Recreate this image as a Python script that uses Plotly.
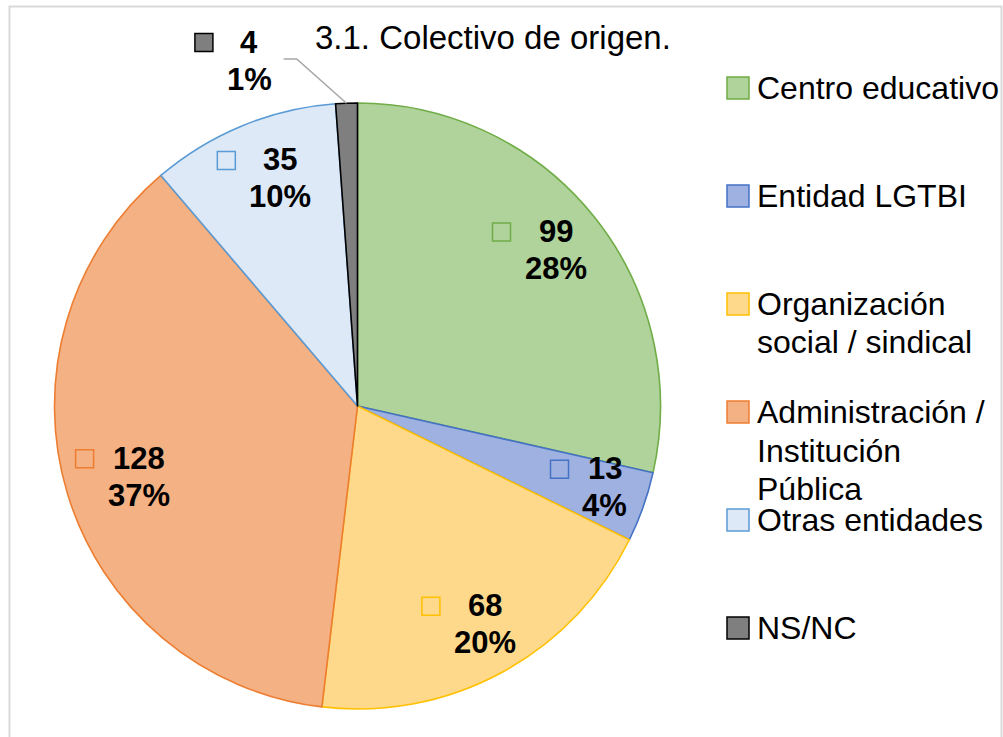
import math
import plotly.graph_objects as go

# ---------------- data ----------------
categories = ["Centro educativo", "Entidad LGTBI", "Organización social / sindical",
              "Administración / Institución Pública", "Otras entidades", "NS/NC"]
legend_lines = [["Centro educativo"], ["Entidad LGTBI"], ["Organización", "social / sindical"],
                ["Administración /", "Institución", "Pública"], ["Otras entidades"], ["NS/NC"]]
values = [99, 13, 68, 128, 35, 4]
pct_labels = ["28%", "4%", "20%", "37%", "10%", "1%"]
fill_colors = ["#afd39a", "#9fb1e0", "#ffd98b", "#f4b183", "#dde9f6", "#7f7f7f"]
line_colors = ["#70ad47", "#4472c4", "#ffc000", "#ed7d31", "#5b9bd5", "#000000"]
title_text = "3.1. Colectivo de origen."

# ---------------- layout helpers (pixels -> paper) ----------------
W, H = 1003, 737
def px(x):
    return x / W
def py(y):
    return 1 - y / H

CX, CY, R = 357.5, 406.0, 303.0
FONT = "Liberation Sans, Arial, sans-serif"
LABEL_FS = 31
LEGEND_FS = 32

fig = go.Figure(go.Pie(
    labels=categories, values=values, sort=False, direction="clockwise", rotation=0,
    marker=dict(colors=fill_colors, line=dict(color=line_colors, width=1.6)),
    textinfo="none", hoverinfo="label+value+percent", showlegend=False,
    domain=dict(x=[px(CX - R), px(CX + R)], y=[py(CY + R), py(CY - R)]),
))

annotations = []
shapes = []

# frame
shapes.append(dict(type="rect", xref="paper", yref="paper",
                   x0=px(9.5), x1=px(1001.5), y0=py(760), y1=py(6.5),
                   line=dict(color="#d9d9d9", width=2), fillcolor="rgba(0,0,0,0)", layer="below"))

# title
annotations.append(dict(x=px(493), y=py(38), xref="paper", yref="paper", text=title_text,
                        showarrow=False, xanchor="center", yanchor="middle",
                        font=dict(family=FONT, size=33, color="#000000")))

# data labels
def text_w(s):
    w = 0.0
    for ch in s:
        w += 0.889 if ch == "%" else 0.556
    return w * LABEL_FS

# label placement (radius factor, angle) overrides, as Excel "best fit" places them
label_override = {0: (0.79, 49.5), 2: (0.81, 153.0), 5: (1.21, 340.2)}
leader = {5}
total = sum(values)
cum = 0
for i, v in enumerate(values):
    mid = (cum + v / 2) / total * 360.0
    cum += v
    rf, ang = label_override.get(i, (0.81, mid))
    bx = CX + rf * R * math.sin(math.radians(ang))
    by = CY - rf * R * math.cos(math.radians(ang))
    hw = max(text_w(str(v)), text_w(pct_labels[i])) / 2
    tcx = bx + 16
    l1 = by - 18.5
    l2 = by + 18.5
    for txt, yy in ((str(v), l1), (pct_labels[i], l2)):
        annotations.append(dict(x=px(tcx), y=py(yy - 0.5), xref="paper", yref="paper",
                                text="<b>%s</b>" % txt, showarrow=False,
                                xanchor="center", yanchor="middle",
                                font=dict(family=FONT, size=LABEL_FS, color="#000000")))
    sq_r = tcx - hw - 14
    shapes.append(dict(type="rect", xref="paper", yref="paper",
                       x0=px(sq_r - 18), x1=px(sq_r), y0=py(l1 + 9), y1=py(l1 - 9),
                       fillcolor=fill_colors[i], line=dict(color=line_colors[i], width=1.5)))
    if i in leader:
        sx = tcx + hw + 12
        sy = by - 2
        ex = CX + R * math.sin(math.radians(mid))
        ey = CY - R * math.cos(math.radians(mid))
        path = "M %f %f L %f %f L %f %f" % (px(sx), py(sy), px(sx + 13), py(sy), px(ex), py(ey))
        shapes.append(dict(type="path", xref="paper", yref="paper", path=path,
                           line=dict(color="#a6a6a6", width=1.5)))

# legend
for i, lines in enumerate(legend_lines):
    cy = 88 + 108 * i
    shapes.append(dict(type="rect", xref="paper", yref="paper",
                       x0=px(727), x1=px(749), y0=py(cy + 11), y1=py(cy - 11),
                       fillcolor=fill_colors[i], line=dict(color=line_colors[i], width=1.5)))
    for j, ln in enumerate(lines):
        annotations.append(dict(x=px(755), y=py(cy + 38.5 * j), xref="paper", yref="paper",
                                text=ln, showarrow=False, xanchor="left", yanchor="middle",
                                font=dict(family=FONT, size=LEGEND_FS, color="#000000")))

fig.update_layout(
    width=W, height=H, margin=dict(l=0, r=0, t=0, b=0),
    paper_bgcolor="#ffffff", plot_bgcolor="#ffffff",
    annotations=annotations, shapes=shapes, showlegend=False,
)
fig.write_html("out.html", config={"displayModeBar": False},
               post_script="document.body.style.margin='0';document.body.style.overflow='hidden';")
